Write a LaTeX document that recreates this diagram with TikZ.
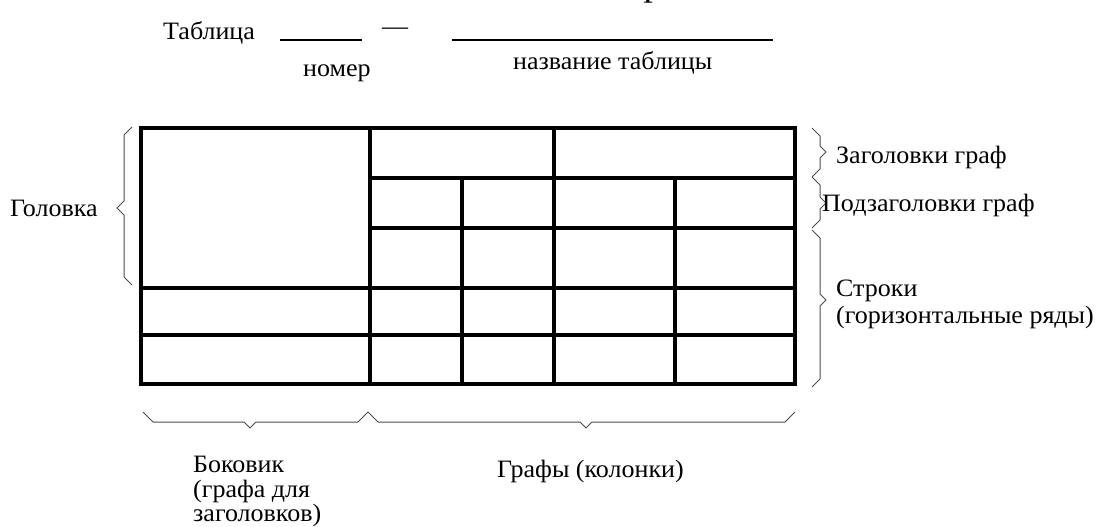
\documentclass[tikz,border=0pt]{standalone}
\usepackage{fontspec}
\setmainfont{Liberation Serif}[FakeStretch=1.04]
\tikzset{
  rule/.style={line width=4.6pt, line join=miter},
  bracket/.style={line width=1pt, black!70, line join=miter},
  blank/.style={line width=1.3pt},
  lbl/.style={font=\fontsize{25}{30}\selectfont, inner sep=0pt, anchor=base west},
}
% brace with its point to the right: x, top y, point y, bottom y
\newcommand\tabbraceR[4]{\draw[bracket] (#1,#2) -- (#1+8,#2+8) -- (#1+8,#3-6) -- (#1+14,#3) -- (#1+8,#3+6) -- (#1+8,#4-8) -- (#1,#4);}
% brace with its point downwards: y, left x, point x, right x
\newcommand\tabbraceD[4]{\draw[bracket] (#2,#1) -- (#2+10,#1+10) -- (#3-6,#1+10) -- (#3,#1+16) -- (#3+6,#1+10) -- (#4-10,#1+10) -- (#4,#1);}
\begin{document}
\begin{tikzpicture}[x=1pt,y=-1pt]
\useasboundingbox (0,0) rectangle (1097,527);

% foot of a large heading letter, cut by the top edge
\begin{scope}
  \clip (0,0) rectangle (1097,527);
  \node[inner sep=0pt, anchor=base, font=\fontsize{36}{40}\selectfont] (big) at (653,-4.5) {р};
\end{scope}

% caption line
\node[lbl] (tab) at (163,40) {Таблица};
\coordinate (n1) at (280,40);
\coordinate (n2) at (362,40);
\draw[blank] (n1) -- (n2);
\node[lbl, anchor=base] (dash) at (395,35) {—};
\coordinate (t1) at (452,40);
\coordinate (t2) at (773,40);
\draw[blank] (t1) -- (t2);
\node[lbl] (num) at (303,76) {номер};
\node[lbl] (ttl) at (513,70) {название таблицы};

% table grid
\draw[rule] (141,128) rectangle (795,384);
\draw[rule] (370,128) -- (370,384);
\draw[rule] (554,128) -- (554,384);
\draw[rule] (462,178) -- (462,384);
\draw[rule] (675,178) -- (675,384);
\draw[rule] (370,178) -- (795,178);
\draw[rule] (370,228) -- (795,228);
\draw[rule] (141,288) -- (795,288);
\draw[rule] (141,335) -- (795,335);

% left brace
\draw[bracket] (132,127) -- (124,135) -- (124,201) -- (117,208) -- (124,215) -- (124,277) -- (132,285);
\node[lbl] (head) at (10,216) {Головка};

% right braces
\tabbraceR{812}{128}{152}{177}
\tabbraceR{812}{177}{203}{228}
\tabbraceR{812}{230}{300}{387}
\node[lbl] (hdr) at (836,163) {Заголовки граф};
\node[lbl] (sub) at (822,211) {Подзаголовки граф};
\node[lbl, align=left, anchor=north west, font=\fontsize{25}{27}\selectfont] (rows) at (836,280) {Строки\\(горизонтальные ряды)};

% bottom braces
\tabbraceD{412}{143}{250}{368}
\tabbraceD{412}{368}{586}{795}
\node[lbl, align=left, anchor=north west, font=\fontsize{25}{24.5}\selectfont] (stub) at (193,456) {Боковик\\(графа для\\заголовков)};
\node[lbl] (cols) at (497,477) {Графы (колонки)};
\end{tikzpicture}
\end{document}
